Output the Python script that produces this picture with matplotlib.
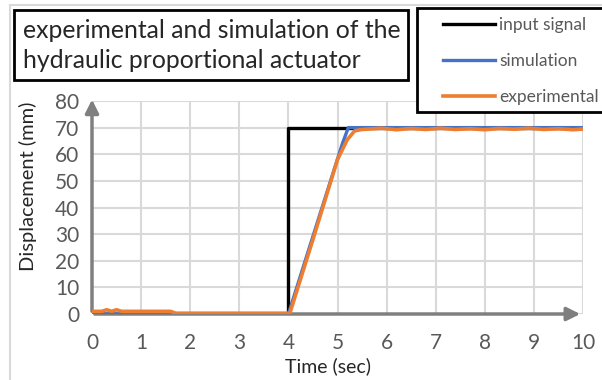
import matplotlib.pyplot as plt
from matplotlib.patches import Rectangle

plt.rcParams['font.family'] = ['Lato', 'DejaVu Sans']

# data
input_t = [0, 4.0, 4.0, 10]
input_y = [0, 0, 70, 70]

sim_t = [0, 4.0, 4.6, 5.1, 5.22, 10]
sim_y = [0, 0, 35, 64, 70, 70]

exp_t = [0, 0.2, 0.3, 0.4, 0.5, 0.6, 0.7, 1.0, 1.6, 1.7, 3.9, 4.03, 4.5, 5.0, 5.2, 5.35,
         5.5, 5.9, 6.2, 6.5, 6.8, 7.1, 7.4, 7.7, 8.0, 8.3, 8.6, 8.9, 9.2, 9.5, 9.8, 10]
exp_y = [1, 1, 1.6, 1, 1.6, 1, 1, 1, 1, 0.3, 0.3, 0.3, 28, 58, 65.5, 68.8,
         69.3, 69.8, 69.2, 69.7, 69.3, 69.8, 69.3, 69.6, 69.2, 69.7, 69.4, 69.8, 69.3, 69.6, 69.2, 69.5]

xticks = list(range(0, 11))
yticks = list(range(0, 81, 10))

fig = plt.figure(figsize=(6.02, 3.8), dpi=100)
W, H = 602, 380

def fx(px):
    return px / W

def fy(py):
    return 1 - py / H

# outer chart border
fig.patches.append(Rectangle((fx(10), fy(420)), fx(700), fy(5) - fy(420),
                             transform=fig.transFigure, fill=False,
                             edgecolor='#d9d9d9', lw=1.5))

ax = fig.add_axes([fx(92), fy(314), fx(583) - fx(92), fy(101) - fy(314)])

ax.plot(input_t, input_y, color='black', lw=2.4, label='input signal', zorder=3)
ax.plot(sim_t, sim_y, color='#4472C4', lw=2.4, label='simulation', zorder=4)
ax.plot(exp_t, exp_y, color='#ED7D31', lw=2.6, label='experimental', zorder=5)

ax.set_xlim(0, 10)
ax.set_ylim(0, 80)
ax.set_xticks(xticks)
ax.set_yticks(yticks)
ax.grid(True, color='#d9d9d9', lw=1.5)
ax.set_axisbelow(True)
for s in ax.spines.values():
    s.set_visible(False)
ax.tick_params(length=0, labelsize=15, labelcolor='#595959')
ax.tick_params(axis='x', pad=14)
ax.tick_params(axis='y', pad=9)

# axis arrows
arrow = dict(arrowstyle='-|>,head_length=0.8,head_width=0.4', color='#7f7f7f', lw=2.5)
ax.annotate('', xy=(1, 0), xytext=(0, 0), xycoords='axes fraction',
            arrowprops=arrow, annotation_clip=False, zorder=2)
ax.annotate('', xy=(0, 1.02), xytext=(0, 0), xycoords='axes fraction',
            arrowprops=arrow, annotation_clip=False, zorder=2)

fig.text(fx(28), fy(186), 'Displacement (mm)', fontsize=14.5, color='#262626',
         rotation=90, ha='center', va='center')
fig.text(fx(328), fy(366), 'Time (sec)', fontsize=14, color='#262626',
         ha='center', va='center')

# title box
fig.patches.append(Rectangle((fx(14), fy(80)), fx(408) - fx(14), fy(10) - fy(80),
                             transform=fig.transFigure, fill=False,
                             edgecolor='black', lw=2))
fig.text(fx(23), fy(31), 'experimental and simulation of the', fontsize=17.8,
         color='#262626', va='center', ha='left')
fig.text(fx(23), fy(61), 'hydraulic proportional actuator', fontsize=17.8,
         color='#262626', va='center', ha='left')

# legend box
fig.patches.append(Rectangle((fx(417), fy(112)), fx(700) - fx(417), fy(8) - fy(112),
                             transform=fig.transFigure, fill=True, facecolor='white',
                             edgecolor='black', lw=2, zorder=10))
leg = fig.legend(loc='upper left', bbox_to_anchor=(fx(436), fy(10)), frameon=False,
                 fontsize=12.5, handlelength=3.0, handletextpad=0.25,
                 labelspacing=1.15, borderaxespad=0)
for t in leg.get_texts():
    t.set_color('#595959')
leg.set_zorder(11)

fig.savefig('out.png', dpi=100)
